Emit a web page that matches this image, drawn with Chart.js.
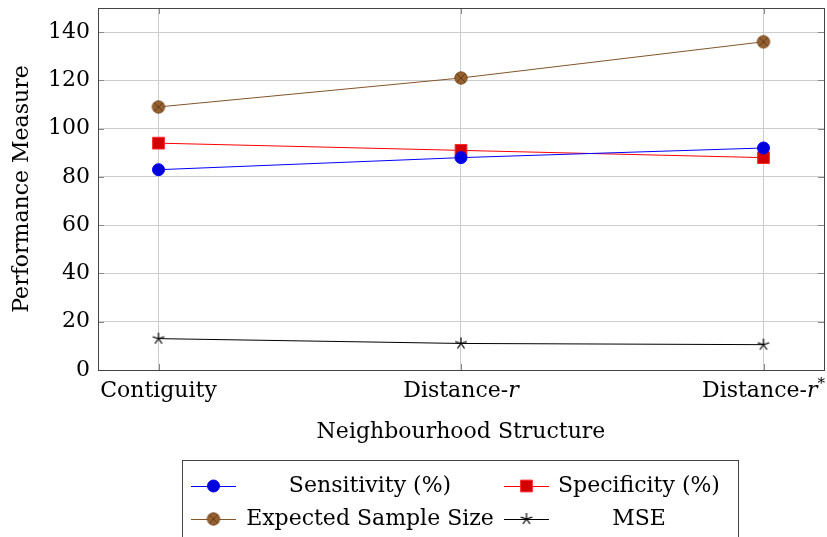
<!DOCTYPE html>
<html><head><meta charset="utf-8">
<script src="https://cdn.jsdelivr.net/npm/chart.js@4.4.0/dist/chart.umd.min.js"></script>
<style>html,body{margin:0;padding:0;background:#fff;}</style>
</head><body>
<canvas id="c" width="827" height="537"></canvas>
<script>
// Performance measures by neighbourhood structure
const structures = ['Contiguity', 'Distance-r', 'Distance-r*'];
const sensitivity = [83, 88, 92];
const specificity = [94, 91, 88];
const sampleSize = [109, 121, 136];
const mse = [13, 11, 10.5];
const yTicks = [0, 20, 40, 60, 80, 100, 120, 140];

const SERIF = "'DejaVu Serif', 'Liberation Serif', serif";
const FS = 22;

function pts(arr) { return arr.map((v, i) => ({ x: i, y: v })); }

// marker images
function circleCross() {
  const c = document.createElement('canvas'); c.width = 16; c.height = 16;
  const g = c.getContext('2d');
  g.beginPath(); g.arc(8, 8, 6.2, 0, Math.PI * 2);
  g.fillStyle = 'rgb(150,97,47)'; g.fill();
  g.lineWidth = 1; g.strokeStyle = 'rgb(120,78,38)'; g.stroke();
  g.beginPath();
  const d = 4.2;
  g.moveTo(8 - d, 8 - d); g.lineTo(8 + d, 8 + d);
  g.moveTo(8 + d, 8 - d); g.lineTo(8 - d, 8 + d);
  g.strokeStyle = 'rgb(95,60,28)'; g.lineWidth = 1; g.stroke();
  return c;
}
function starMark() {
  const c = document.createElement('canvas'); c.width = 16; c.height = 16;
  const g = c.getContext('2d');
  g.beginPath();
  for (let k = 0; k < 5; k++) {
    const a = -Math.PI / 2 + k * 2 * Math.PI / 5;
    g.moveTo(8, 8); g.lineTo(8 + 6 * Math.cos(a), 8 + 6 * Math.sin(a));
  }
  g.strokeStyle = '#000'; g.lineWidth = 1.2; g.stroke();
  return c;
}
const brownMark = circleCross();
const starImg = starMark();

// frame + inward ticks
const framePlugin = {
  id: 'frame',
  afterDatasetsDraw(chart) {
    const { ctx, chartArea: a, scales } = chart;
    ctx.save();
    ctx.strokeStyle = '#888'; ctx.lineWidth = 1;
    ctx.beginPath();
    scales.y.ticks.forEach(t => {
      const y = Math.round(scales.y.getPixelForValue(t.value)) + 0.5;
      ctx.moveTo(a.left, y); ctx.lineTo(a.left + 6, y);
      ctx.moveTo(a.right, y); ctx.lineTo(a.right - 6, y);
    });
    scales.x.ticks.forEach(t => {
      const x = Math.round(scales.x.getPixelForValue(t.value)) + 0.5;
      ctx.moveTo(x, a.bottom); ctx.lineTo(x, a.bottom - 6);
      ctx.moveTo(x, a.top); ctx.lineTo(x, a.top + 6);
    });
    ctx.stroke();
    ctx.strokeStyle = '#444';
    ctx.strokeRect(Math.round(a.left) + 0.5, Math.round(a.top) + 0.5,
      Math.round(a.right - a.left), Math.round(a.bottom - a.top));
    ctx.restore();
  }
};

// x tick labels with math-italic r and superscript star
const xLabelPlugin = {
  id: 'xlabels',
  afterDraw(chart) {
    const { ctx, chartArea: a, scales } = chart;
    ctx.save();
    ctx.fillStyle = '#000';
    ctx.textBaseline = 'alphabetic';
    const base = a.bottom + 27;
    scales.x.ticks.forEach(t => {
      const label = structures[t.value];
      const parts = [];
      const m = label.match(/^(.*-)(r)(\*?)$/);
      if (m) {
        parts.push({ s: m[1], f: `${FS}px ${SERIF}`, dy: 0 });
        parts.push({ s: m[2], f: `italic ${FS}px ${SERIF}`, dy: 0 });
        if (m[3]) parts.push({ s: '*', f: `${Math.round(FS * 0.7)}px ${SERIF}`, dy: -9 });
      } else {
        parts.push({ s: label, f: `${FS}px ${SERIF}`, dy: 0 });
      }
      let w = 0;
      parts.forEach(p => { ctx.font = p.f; p.w = ctx.measureText(p.s).width; w += p.w; });
      let x = scales.x.getPixelForValue(t.value) - w / 2;
      parts.forEach(p => { ctx.font = p.f; ctx.fillText(p.s, x, base + p.dy); x += p.w; });
    });
    ctx.restore();
  }
};

// boxed two-column legend below the axes
const legendPlugin = {
  id: 'boxlegend',
  afterDraw(chart) {
    const { ctx } = chart;
    const box = { l: 182, t: 460, r: 738 };
    ctx.save();
    ctx.strokeStyle = '#444'; ctx.lineWidth = 1;
    ctx.strokeRect(box.l + 0.5, box.t + 0.5, box.r - box.l, 120);
    const cols = [{ l0: 191, l1: 236, tc: 370 }, { l0: 504, l1: 549, tc: 639 }];
    const rows = [486, 519];
    chart.data.datasets.forEach((ds, i) => {
      const col = cols[i % 2], y = rows[Math.floor(i / 2)];
      ctx.beginPath();
      ctx.strokeStyle = ds.borderColor; ctx.lineWidth = ds.borderWidth;
      ctx.moveTo(col.l0, y + 0.5); ctx.lineTo(col.l1, y + 0.5); ctx.stroke();
      ctx.fillStyle = ds.pointBackgroundColor || ds.backgroundColor;
      ctx.strokeStyle = ds.pointBorderColor || ds.borderColor;
      ctx.lineWidth = 1;
      Chart.helpers.drawPoint(ctx, {
        pointStyle: ds.pointStyle, radius: ds.pointRadius, rotation: 0, borderWidth: 1
      }, (col.l0 + col.l1) / 2, y);
      ctx.fillStyle = '#000';
      ctx.font = `${FS}px ${SERIF}`;
      ctx.textAlign = 'center'; ctx.textBaseline = 'middle';
      ctx.fillText(ds.label, col.tc, y);
    });
    ctx.restore();
  }
};

new Chart(document.getElementById('c'), {
  type: 'line',
  data: {
    datasets: [
      { label: 'Sensitivity (%)', data: pts(sensitivity), borderColor: 'rgb(0,0,255)',
        backgroundColor: 'rgb(0,0,204)', pointBackgroundColor: 'rgb(0,0,220)', pointBorderColor: 'rgb(0,0,255)',
        pointStyle: 'circle', pointRadius: 6, borderWidth: 1, pointBorderWidth: 1 },
      { label: 'Specificity (%)', data: pts(specificity), borderColor: 'rgb(255,0,0)',
        backgroundColor: 'rgb(204,0,0)', pointBackgroundColor: 'rgb(210,0,0)', pointBorderColor: 'rgb(255,40,40)',
        pointStyle: 'rect', pointRadius: 8.3, borderWidth: 1, pointBorderWidth: 1 },
      { label: 'Expected Sample Size', data: pts(sampleSize), borderColor: 'rgb(130,85,42)',
        backgroundColor: 'rgb(150,97,47)', pointStyle: brownMark, pointRadius: 6, borderWidth: 1 },
      { label: 'MSE', data: pts(mse), borderColor: '#000', backgroundColor: '#000',
        pointStyle: starImg, pointRadius: 6, borderWidth: 1 }
    ]
  },
  options: {
    responsive: false,
    animation: false,
    devicePixelRatio: 1,
    layout: { autoPadding: false, padding: { top: 8, right: 3, left: 0, bottom: 82 } },
    plugins: { legend: { display: false }, tooltip: { enabled: false } },
    scales: {
      x: {
        type: 'linear', min: -0.2, max: 2.2,
        afterBuildTicks: s => { s.ticks = structures.map((_, i) => ({ value: i })); },
        afterFit: s => { s.height = 85; s.paddingLeft = 0; s.paddingRight = 0; },
        grid: { color: '#cccccc', drawTicks: false },
        border: { display: false },
        ticks: { display: false },
        title: { display: true, text: 'Neighbourhood Structure', color: '#000',
          font: { family: SERIF, size: FS, lineHeight: 1.2 }, padding: { top: 9.8, bottom: 9.8 } }
      },
      y: {
        min: 0, max: 150,
        afterBuildTicks: s => { s.ticks = yTicks.map(v => ({ value: v })); },
        afterFit: s => { s.width = 98; s.paddingTop = 0; s.paddingBottom = 0; },
        grid: { color: '#cccccc', drawTicks: false },
        border: { display: false },
        ticks: { color: '#000', padding: 8, font: { family: SERIF, size: FS } },
        title: { display: true, text: 'Performance Measure', color: '#000',
          font: { family: SERIF, size: FS, lineHeight: 1.2 }, padding: { top: 8.8, bottom: 8.8 } }
      }
    }
  },
  plugins: [framePlugin, xLabelPlugin, legendPlugin]
});
</script>
</body></html>
